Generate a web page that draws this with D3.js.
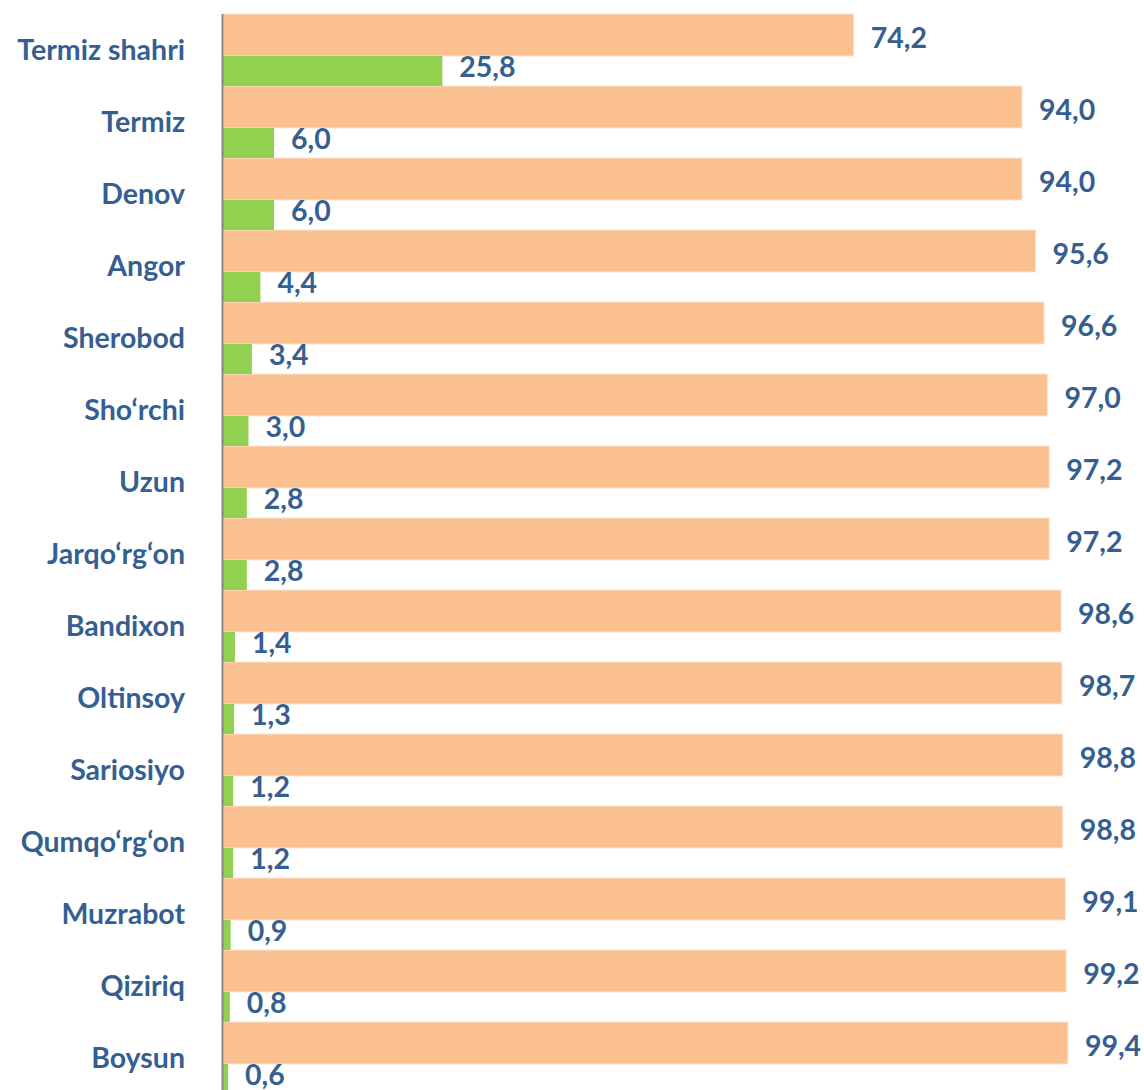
<!DOCTYPE html>
<html>
<head>
<meta charset="utf-8">
<script src="https://cdn.jsdelivr.net/npm/d3@7"></script>
<style>
  body { margin: 0; background: #fff; }
</style>
</head>
<body>
<div id="chart"></div>
<script>
// data
var districts = ["Termiz shahri", "Termiz", "Denov", "Angor", "Sherobod", "Sho\u2018rchi", "Uzun",
                 "Jarqo\u2018rg\u2018on", "Bandixon", "Oltinsoy", "Sariosiyo", "Qumqo\u2018rg\u2018on",
                 "Muzrabot", "Qiziriq", "Boysun"];
var orangeVals = [74.2, 94.0, 94.0, 95.6, 96.6, 97.0, 97.2, 97.2, 98.6, 98.7, 98.8, 98.8, 99.1, 99.2, 99.4];
var greenVals = [25.8, 6.0, 6.0, 4.4, 3.4, 3.0, 2.8, 2.8, 1.4, 1.3, 1.2, 1.2, 0.9, 0.8, 0.6];

var width = 1144, height = 1090;
var x0 = 223, y0 = 14, band = 72;
var orangeH = 42, greenH = 30;
var textColor = "#365f91";
var font = "Lato, 'Open Sans', sans-serif";
var fsize = "28.5px";

var svg = d3.select("#chart").append("svg")
    .attr("width", width)
    .attr("height", height);

var x = d3.scaleLinear().domain([0, 100]).range([x0, x0 + 850]);
var y = d3.scaleBand().domain(districts).range([y0, y0 + band * districts.length]).padding(0);

var fmt = function(v) { return d3.format(".1f")(v).replace(".", ","); };

var idx = d3.range(districts.length);

// orange bars
svg.selectAll("rect.orange").data(idx).enter().append("rect")
    .attr("class", "orange")
    .attr("x", x(0))
    .attr("y", function(d) { return y(districts[d]); })
    .attr("width", function(d) { return x(orangeVals[d]) - x(0); })
    .attr("height", orangeH)
    .style("fill", "#fac090")
    .style("stroke", "#fde4d0")
    .style("stroke-width", 1);

// green bars
svg.selectAll("rect.green").data(idx).enter().append("rect")
    .attr("class", "green")
    .attr("x", x(0))
    .attr("y", function(d) { return y(districts[d]) + orangeH; })
    .attr("width", function(d) { return x(greenVals[d]) - x(0); })
    .attr("height", greenH)
    .style("fill", "#92d050");

// value labels
svg.selectAll("text.olab").data(idx).enter().append("text")
    .attr("class", "olab")
    .attr("x", function(d) { return x(orangeVals[d]) + 17; })
    .attr("y", function(d) { return y(districts[d]) + orangeH / 2 + 13; })
    .text(function(d) { return fmt(orangeVals[d]); })
    .style("font-family", font)
    .style("font-size", fsize)
    .style("font-weight", "bold")
    .style("fill", textColor);

svg.selectAll("text.glab").data(idx).enter().append("text")
    .attr("class", "glab")
    .attr("x", function(d) { return x(greenVals[d]) + 17; })
    .attr("y", function(d) { return y(districts[d]) + orangeH + greenH / 2 + 6; })
    .text(function(d) { return fmt(greenVals[d]); })
    .style("font-family", font)
    .style("font-size", fsize)
    .style("font-weight", "bold")
    .style("fill", textColor);

// category labels
svg.selectAll("text.cat").data(idx).enter().append("text")
    .attr("class", "cat")
    .attr("x", 185)
    .attr("y", function(d) { return y(districts[d]) + band / 2 + 10; })
    .attr("text-anchor", "end")
    .text(function(d) { return districts[d]; })
    .style("font-family", font)
    .style("font-size", fsize)
    .style("font-weight", "bold")
    .style("fill", textColor);

// axis line
svg.append("line")
    .attr("x1", x0 - 0.5).attr("x2", x0 - 0.5)
    .attr("y1", y0).attr("y2", height)
    .style("stroke", "#868686")
    .style("stroke-width", 2);
</script>
</body>
</html>
